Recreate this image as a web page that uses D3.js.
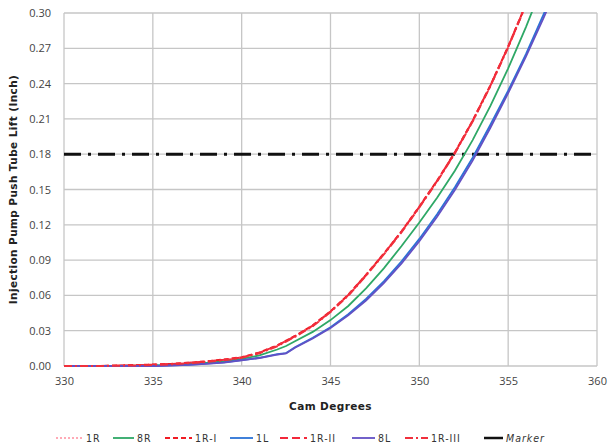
<!DOCTYPE html>
<html>
<head>
<meta charset="utf-8">
<script src="https://cdn.jsdelivr.net/npm/d3@7"></script>
<style>
  html, body { margin: 0; padding: 0; background: #fff; }
  svg { display: block; }
  .tick text { font-family: "Open Sans", "DejaVu Sans", sans-serif; font-size: 11px; fill: #444; }
  .title { font-family: "DejaVu Sans", sans-serif; font-weight: bold; font-size: 10.5px; fill: #222; letter-spacing: 0.4px; }
  .legend text { font-family: "DejaVu Sans Condensed", "DejaVu Sans", sans-serif; font-size: 10.5px; fill: #333; letter-spacing: 1px; }
</style>
</head>
<body>
<svg id="chart" width="611" height="447"></svg>
<script>
// Cam angle (degrees) at which push tube lift was sampled
const camDeg = [330, 331, 332, 333, 334, 335, 336, 337, 338, 339, 340, 341, 342, 342.5,
                343, 344, 345, 346, 347, 348, 349, 350, 351, 352, 353, 354, 355, 356, 357, 358];

// Push tube lift (inch) for each cylinder / run
const lift1R   = [0, 0, 0, 0.0003, 0.0006, 0.001, 0.0015, 0.0025, 0.0035, 0.005, 0.007, 0.011, 0.017, 0.021,
                  0.025, 0.034, 0.046, 0.060, 0.077, 0.095, 0.114, 0.135, 0.157, 0.181, 0.208, 0.238, 0.271, 0.307, null, null];
const lift8R   = [0, 0, 0, 0, 0.0003, 0.0006, 0.001, 0.0017, 0.0027, 0.004, 0.006, 0.009, 0.014, 0.017,
                  0.021, 0.029, 0.039, 0.051, 0.066, 0.083, 0.102, 0.122, 0.143, 0.166, 0.192, 0.221, 0.253, 0.288, 0.326, null];
const lift1RI  = [0, 0, 0, 0.0004, 0.0008, 0.0012, 0.0018, 0.0028, 0.004, 0.0055, 0.0075, 0.0115, 0.0175, 0.0215,
                  0.0255, 0.0345, 0.0465, 0.0605, 0.0775, 0.0955, 0.1145, 0.1355, 0.1575, 0.1815, 0.2085, 0.2385, 0.2715, 0.3075, null, null];
const lift1L   = [0, 0, 0, 0, 0, 0, 0.0005, 0.001, 0.002, 0.003, 0.005, 0.007, 0.010, 0.011,
                  0.016, 0.024, 0.033, 0.044, 0.057, 0.072, 0.089, 0.108, 0.129, 0.152, 0.177, 0.205, 0.234, 0.265, 0.299, 0.334];
const lift1RII = [0, 0, 0, 0.0003, 0.0007, 0.0011, 0.0017, 0.0027, 0.0038, 0.0053, 0.0073, 0.0113, 0.0173, 0.0213,
                  0.0253, 0.0343, 0.0463, 0.0603, 0.0773, 0.0953, 0.1143, 0.1353, 0.1573, 0.1813, 0.2083, 0.2383, 0.2713, 0.3073, null, null];
const lift8L   = [0, 0, 0, 0, 0, 0, 0.0004, 0.0009, 0.0018, 0.0028, 0.0048, 0.0068, 0.0097, 0.0107,
                  0.0155, 0.0233, 0.0322, 0.043, 0.0557, 0.0705, 0.0872, 0.106, 0.1268, 0.1496, 0.1745, 0.2025, 0.232, 0.263, 0.296, 0.331];
const lift1RIII = [0, 0, 0, 0.0002, 0.0005, 0.0009, 0.0014, 0.0024, 0.0034, 0.0049, 0.0069, 0.0109, 0.0168, 0.0208,
                  0.0248, 0.0338, 0.0458, 0.0598, 0.0768, 0.0948, 0.1138, 0.1348, 0.1568, 0.1808, 0.2078, 0.2378, 0.2708, 0.3068, null, null];

// Reference lift level
const markerLift = 0.18;

const xTicks = [330, 335, 340, 345, 350, 355, 360];
const yTicks = [0, 0.03, 0.06, 0.09, 0.12, 0.15, 0.18, 0.21, 0.24, 0.27, 0.30];

const series = [
  { name: "1R",     values: lift1R,    color: "#ff8f9f", dash: "2,2",     width: 1.6 },
  { name: "8R",     values: lift8R,    color: "#2ea866", dash: null,      width: 1.8 },
  { name: "1R-I",   values: lift1RI,   color: "#f01c24", dash: "5,3",     width: 2.0 },
  { name: "1L",     values: lift1L,    color: "#2b73d6", dash: null,      width: 1.8 },
  { name: "1R-II",  values: lift1RII,  color: "#f3283a", dash: "8,4",     width: 2.0 },
  { name: "8L",     values: lift8L,    color: "#6350c4", dash: null,      width: 1.8 },
  { name: "1R-III", values: lift1RIII, color: "#f0303c", dash: "8,3,2,3", width: 2.0 }
];

const svg = d3.select("#chart");
const margin = { left: 64, right: 14, top: 13, bottom: 81 };
const W = 611, H = 447;
const x = d3.scaleLinear().domain([330, 360]).range([margin.left, W - margin.right]);
const y = d3.scaleLinear().domain([0, 0.30]).range([H - margin.bottom, margin.top]);

svg.append("defs").append("clipPath").attr("id", "plot")
  .append("rect")
  .attr("x", x(330)).attr("y", y(0.30) - 1)
  .attr("width", x(360) - x(330)).attr("height", y(0) - y(0.30) + 2);

// Grid lines
const grid = svg.append("g").attr("stroke", "#c6c6c6").attr("stroke-width", 1.3);
grid.selectAll(".gy").data(yTicks).join("line")
  .attr("x1", x(330)).attr("x2", x(360))
  .attr("y1", d => y(d)).attr("y2", d => y(d));
grid.selectAll(".gx").data(xTicks).join("line")
  .attr("x1", d => x(d)).attr("x2", d => x(d))
  .attr("y1", y(0)).attr("y2", y(0.30));

// Axes
const xAxis = svg.append("g").attr("transform", `translate(0,${y(0)})`)
  .call(d3.axisBottom(x).tickValues(xTicks).tickSize(0).tickPadding(11).tickFormat(d3.format("d")));
xAxis.select(".domain").remove();
const yAxis = svg.append("g").attr("transform", `translate(${x(330)},0)`)
  .call(d3.axisLeft(y).tickValues(yTicks).tickSize(0).tickPadding(13).tickFormat(d3.format(".2f")));
yAxis.select(".domain").remove();

// Axis titles
svg.append("text").attr("class", "title")
  .attr("x", (x(330) + x(360)) / 2).attr("y", 410)
  .attr("text-anchor", "middle").text("Cam Degrees");
svg.append("text").attr("class", "title")
  .attr("transform", `translate(17,${(y(0) + y(0.30)) / 2}) rotate(-90)`)
  .attr("text-anchor", "middle").text("Injection Pump Push Tube Lift (Inch)");

const plot = svg.append("g").attr("clip-path", "url(#plot)");

// Marker line
plot.append("line")
  .attr("x1", x(330)).attr("x2", x(360))
  .attr("y1", y(markerLift)).attr("y2", y(markerLift))
  .attr("stroke", "#111").attr("stroke-width", 3)
  .attr("stroke-dasharray", "17,7,3,7");

// Lift curves
const line = d3.line()
  .defined(d => d[1] !== null)
  .x(d => x(d[0])).y(d => y(d[1]));

series.forEach(s => {
  plot.append("path")
    .datum(camDeg.map((c, i) => [c, s.values[i]]))
    .attr("fill", "none")
    .attr("stroke", s.color)
    .attr("stroke-width", s.width)
    .attr("stroke-dasharray", s.dash)
    .attr("d", line);
});

// Legend
const legendItems = series.map(s => ({ name: s.name, color: s.color, dash: s.dash, width: s.width }))
  .concat([{ name: "Marker", color: "#111", dash: null, width: 2.5 }]);
const legendX = [56, 113, 165, 230, 280, 352, 405, 484];
const legendLen = [27, 21, 27, 23, 27, 23, 23, 19];
const legend = svg.append("g").attr("class", "legend");
legendItems.forEach((d, i) => {
  const g = legend.append("g").attr("transform", `translate(${legendX[i]},438)`);
  g.append("line").attr("x1", 0).attr("x2", legendLen[i])
    .attr("stroke", d.color).attr("stroke-width", d.width)
    .attr("stroke-dasharray", d.dash);
  g.append("text").attr("x", legendLen[i] + 3).attr("y", 4)
    .attr("font-style", d.name === "Marker" ? "italic" : null)
    .text(d.name);
});
</script>
</body>
</html>
